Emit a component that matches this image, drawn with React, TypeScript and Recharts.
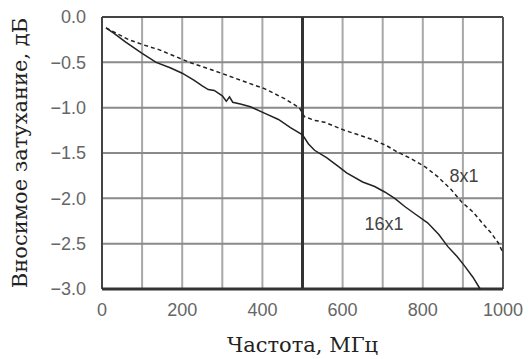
import React from 'react';
import {
  LineChart,
  Line,
  XAxis,
  YAxis,
  CartesianGrid,
  ReferenceLine,
  ReferenceDot,
  Label,
} from 'recharts';

// Частота, МГц / затухание, дБ
const line16x1 = [
  { f: 10, v: -0.12 }, { f: 30, v: -0.18 }, { f: 60, v: -0.28 }, { f: 100, v: -0.4 },
  { f: 135, v: -0.5 }, { f: 170, v: -0.56 }, { f: 200, v: -0.62 }, { f: 230, v: -0.7 },
  { f: 250, v: -0.76 }, { f: 265, v: -0.8 }, { f: 280, v: -0.81 }, { f: 300, v: -0.87 },
  { f: 310, v: -0.93 }, { f: 318, v: -0.88 }, { f: 326, v: -0.94 }, { f: 345, v: -0.96 },
  { f: 370, v: -0.99 }, { f: 405, v: -1.06 }, { f: 440, v: -1.13 }, { f: 470, v: -1.22 },
  { f: 500, v: -1.3 }, { f: 515, v: -1.4 }, { f: 530, v: -1.47 }, { f: 560, v: -1.55 },
  { f: 590, v: -1.65 }, { f: 610, v: -1.72 }, { f: 650, v: -1.82 }, { f: 680, v: -1.87 },
  { f: 705, v: -1.93 }, { f: 730, v: -2.0 }, { f: 755, v: -2.09 }, { f: 780, v: -2.17 },
  { f: 812, v: -2.27 }, { f: 840, v: -2.4 }, { f: 862, v: -2.53 }, { f: 885, v: -2.64 },
  { f: 905, v: -2.75 }, { f: 925, v: -2.87 }, { f: 943, v: -3.0 },
];

const line8x1 = [
  { f: 10, v: -0.12 }, { f: 40, v: -0.19 }, { f: 67, v: -0.25 }, { f: 105, v: -0.31 },
  { f: 142, v: -0.36 }, { f: 180, v: -0.43 }, { f: 218, v: -0.5 }, { f: 265, v: -0.57 },
  { f: 310, v: -0.64 }, { f: 360, v: -0.72 }, { f: 405, v: -0.79 }, { f: 455, v: -0.9 },
  { f: 492, v: -1.0 }, { f: 505, v: -1.1 }, { f: 530, v: -1.14 }, { f: 555, v: -1.16 },
  { f: 605, v: -1.25 }, { f: 640, v: -1.3 }, { f: 680, v: -1.36 }, { f: 710, v: -1.42 },
  { f: 737, v: -1.49 }, { f: 770, v: -1.56 }, { f: 805, v: -1.65 }, { f: 837, v: -1.76 },
  { f: 870, v: -1.9 }, { f: 897, v: -2.04 }, { f: 925, v: -2.15 }, { f: 948, v: -2.27 },
  { f: 970, v: -2.38 }, { f: 988, v: -2.49 }, { f: 1000, v: -2.6 },
];

const xTicks = [0, 100, 200, 300, 400, 500, 600, 700, 800, 900, 1000];
const yTicks = [-3, -2.5, -2, -1.5, -1, -0.5, 0];

const tickStyle = { fill: '#666', fontSize: 18, fontFamily: 'Liberation Sans, Arial, sans-serif' };
const titleFont = 'DejaVu Serif, serif';

export default function App() {
  return (
    <div style={{ position: 'absolute', left: 0, top: 0, background: '#fff' }}>
      <LineChart
        width={530}
        height={359}
        margin={{ top: 17, right: 27, bottom: 0, left: 0 }}
      >
        <CartesianGrid horizontal={false} stroke="#a8a8a8" strokeWidth={2} />
        <CartesianGrid vertical={false} stroke="#8a8a8a" strokeWidth={2} />
        <XAxis
          dataKey="f"
          type="number"
          domain={[0, 1000]}
          ticks={xTicks}
          height={70}
          tickLine={false}
          axisLine={false}
          tick={tickStyle}
          tickMargin={8}
          tickFormatter={(t: number) => (t % 200 === 0 ? String(t) : '')}
        >
          <Label
            value="Частота, МГц"
            position="insideBottom"
            offset={7}
            style={{ fill: '#222', fontSize: 21, fontFamily: titleFont }}
          />
        </XAxis>
        <YAxis
          type="number"
          domain={[-3, 0]}
          ticks={yTicks}
          width={102}
          tickLine={false}
          axisLine={false}
          tick={tickStyle}
          tickMargin={10}
          tickFormatter={(t: number) => (t === 0 ? '0.0' : '\u2212' + Math.abs(t).toFixed(1))}
        >
          <Label
            value="Вносимое затухание, дБ"
            angle={-90}
            position="insideLeft"
            offset={20}
            style={{ fill: '#222', fontSize: 21, fontFamily: titleFont, textAnchor: 'middle' }}
          />
        </YAxis>
        <ReferenceLine y={0} stroke="#444" strokeWidth={2} />
        <ReferenceLine x={1000} stroke="#555" strokeWidth={2} />
        <ReferenceLine x={0} stroke="#444" strokeWidth={2} />
        <ReferenceLine y={-3} stroke="#333" strokeWidth={3} />
        <ReferenceLine x={500} stroke="#333" strokeWidth={3} />
        <Line
          data={line8x1}
          dataKey="v"
          stroke="#222"
          strokeWidth={1.5}
          strokeDasharray="4 3"
          dot={false}
          isAnimationActive={false}
        />
        <Line
          data={line16x1}
          dataKey="v"
          stroke="#222"
          strokeWidth={1.5}
          dot={false}
          isAnimationActive={false}
        />
        <ReferenceDot x={903} y={-1.75} r={0} fill="none" stroke="none">
          <Label value="8x1" position="center" style={{ fill: '#444', fontSize: 18, fontFamily: 'Liberation Sans, Arial, sans-serif' }} />
        </ReferenceDot>
        <ReferenceDot x={703} y={-2.28} r={0} fill="none" stroke="none">
          <Label value="16x1" position="center" style={{ fill: '#444', fontSize: 18, fontFamily: 'Liberation Sans, Arial, sans-serif' }} />
        </ReferenceDot>
      </LineChart>
    </div>
  );
}
